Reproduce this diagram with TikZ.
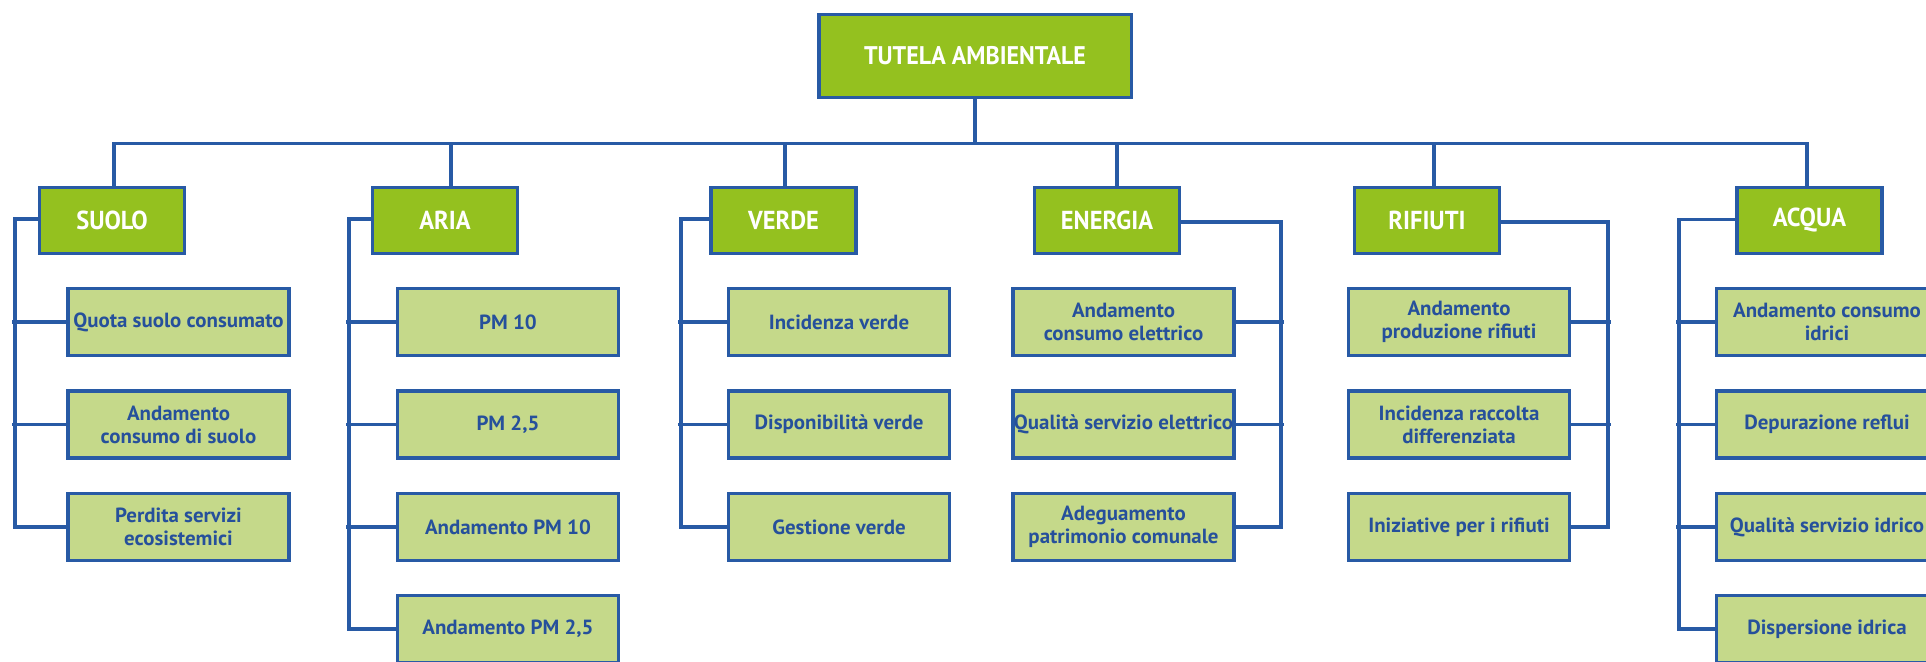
\documentclass[tikz,border=0pt]{standalone}
\usepackage{fontspec}
\setmainfont{PT Sans}[FakeStretch=1.02]
\newfontfamily\headfont{PT Sans}[FakeStretch=0.94]
\definecolor{lineblue}{RGB}{40,90,165}
\definecolor{darkgreen}{RGB}{148,193,31}
\definecolor{lightgreen}{RGB}{197,217,138}
\definecolor{textblue}{RGB}{38,80,155}
\tikzset{
  topbox/.style={draw=lineblue, line width=3.5pt, fill=darkgreen, minimum width=312.5pt, minimum height=82.5pt, inner sep=0pt, text=white, font=\headfont\bfseries\fontsize{25.5}{28}\selectfont},
  catbox/.style={draw=lineblue, line width=3.5pt, fill=darkgreen, minimum width=145pt, minimum height=66pt, inner sep=0pt, text=white, font=\headfont\bfseries\fontsize{26}{28}\selectfont},
  childbox/.style={draw=lineblue, line width=3.5pt, fill=lightgreen, minimum width=221pt, minimum height=67pt, inner sep=0pt, text=textblue, align=center, font=\bfseries\fontsize{20.5}{23}\selectfont},
  conn/.style={draw=lineblue, line width=3.5pt}
}
\begin{document}
\begin{tikzpicture}[x=1pt,y=-1pt]
\useasboundingbox (0,0) rectangle (1926,661);
\clip (0,0) rectangle (1926,661);
% top
\node[topbox] (top) at (975,56) {TUTELA AMBIENTALE};
% categories
\node[catbox] (suolo) at (112,220.5) {SUOLO};
\node[catbox] (aria) at (445,220.5) {ARIA};
\node[catbox] (verde) at (783.5,220.5) {VERDE};
\node[catbox] (energia) at (1107,220.5) {ENERGIA};
\node[catbox] (rifiuti) at (1427,220.5) {RIFIUTI};
\node[catbox] (acqua) at (1809.5,220.5) {ACQUA};
% children
\node[childbox] (s1) at (178.5,322) {Quota suolo consumato};
\node[childbox] (s2) at (178.5,424.5) {Andamento\\consumo di suolo};
\node[childbox] (s3) at (178.5,527) {Perdita servizi\\ecosistemici};
\node[childbox] (a1) at (508,322) {PM 10};
\node[childbox] (a2) at (508,424.5) {PM 2,5};
\node[childbox] (a3) at (508,527) {Andamento PM 10};
\node[childbox] (a4) at (508,629) {Andamento PM 2,5};
\node[childbox] (v1) at (839,322) {Incidenza verde};
\node[childbox] (v2) at (839,424.5) {Disponibilità verde};
\node[childbox] (v3) at (839,527) {Gestione verde};
\node[childbox] (e1) at (1123.5,322) {Andamento\\consumo elettrico};
\node[childbox] (e2) at (1123.5,424.5) {Qualità servizio elettrico};
\node[childbox] (e3) at (1123.5,527) {Adeguamento\\patrimonio comunale};
\node[childbox] (r1) at (1459,322) {Andamento\\produzione rifiuti};
\node[childbox] (r2) at (1459,424.5) {Incidenza raccolta\\differenziata};
\node[childbox] (r3) at (1459,527) {Iniziative per i rifiuti};
\node[childbox] (w1) at (1827,322) {Andamento consumo\\idrici};
\node[childbox] (w2) at (1827,424.5) {Depurazione reflui};
\node[childbox] (w3) at (1827,527) {Qualità servizio idrico};
\node[childbox] (w4) at (1827,629) {Dispersione idrica};
% bus
\coordinate (bus) at (975,143.5);
\coordinate (bl) at (114,143.5);
\coordinate (br) at (1807,143.5);
\draw[conn] (top.south) -- (bus);
\draw[conn] (bl |- suolo.north) -- (bl) -- (br) -- (br |- acqua.north);
\draw[conn] (451,143.5) -- (451,0 |- aria.north);
\draw[conn] (785,143.5) -- (785,0 |- verde.north);
\draw[conn] (1117,143.5) -- (1117,0 |- energia.north);
\draw[conn] (1434,143.5) -- (1434,0 |- rifiuti.north);
% left trees
\coordinate (sv) at (15,0);
\coordinate (av) at (349,0);
\coordinate (vv) at (681,0);
\coordinate (wv) at (1679,0);
\coordinate (ev) at (1281,0);
\coordinate (rv) at (1608,0);
\draw[conn] ([yshift=1.5pt]suolo.west) -| (sv |- s3.west) -- (s3.west);
\draw[conn] (s1.west) -- ([xshift=-3pt]sv |- s1.west);
\draw[conn] (s2.west) -- ([xshift=-3pt]sv |- s2.west);
\draw[conn] ([yshift=1.5pt]aria.west) -| (av |- a4.west) -- (a4.west);
\draw[conn] (a1.west) -- ([xshift=-3pt]av |- a1.west);
\draw[conn] (a2.west) -- ([xshift=-3pt]av |- a2.west);
\draw[conn] (a3.west) -- ([xshift=-3pt]av |- a3.west);
\draw[conn] ([yshift=1.5pt]verde.west) -| (vv |- v3.west) -- (v3.west);
\draw[conn] (v1.west) -- ([xshift=-3pt]vv |- v1.west);
\draw[conn] (v2.west) -- ([xshift=-3pt]vv |- v2.west);
\draw[conn] ([yshift=1pt]acqua.west) -| (wv |- w4.west) -- (w4.west);
\draw[conn] (w1.west) -- ([xshift=-3pt]wv |- w1.west);
\draw[conn] (w2.west) -- ([xshift=-3pt]wv |- w2.west);
\draw[conn] (w3.west) -- ([xshift=-3pt]wv |- w3.west);
% right trees
\draw[conn] ([yshift=-1.5pt]energia.east) -| (ev |- e3.east) -- (e3.east);
\draw[conn] (e1.east) -- ([xshift=3pt]ev |- e1.east);
\draw[conn] (e2.east) -- ([xshift=3pt]ev |- e2.east);
\draw[conn] ([yshift=-1.5pt]rifiuti.east) -| (rv |- r3.east) -- (r3.east);
\draw[conn] (r1.east) -- ([xshift=3pt]rv |- r1.east);
\draw[conn] (r2.east) -- ([xshift=3pt]rv |- r2.east);
\end{tikzpicture}
\end{document}
